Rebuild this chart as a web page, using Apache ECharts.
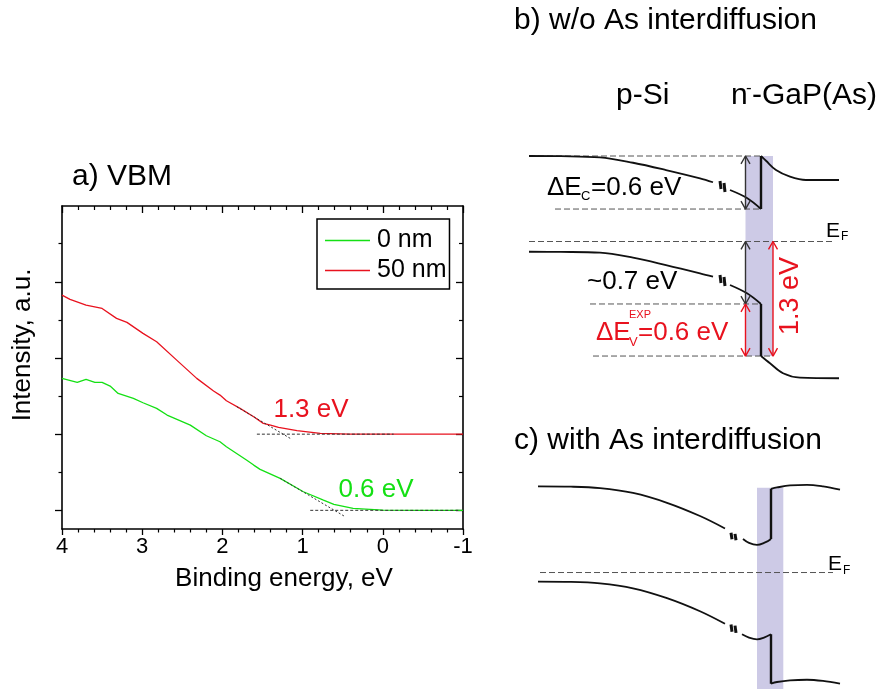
<!DOCTYPE html>
<html>
<head>
<meta charset="utf-8">
<script src="https://cdn.jsdelivr.net/npm/echarts@6/dist/echarts.min.js"></script>
<style>
html,body{margin:0;padding:0;background:#fff;}
#main{width:886px;height:689px;}
</style>
</head>
<body>
<div id="main"></div>
<script>
// ---------- Panel a) VBM spectra ----------
const bindingEnergy50 = [4.0, 3.9, 3.7, 3.5, 3.32, 3.19, 2.99, 2.82, 2.57, 2.32, 2.11, 2.03, 1.95, 1.78, 1.61, 1.49, 1.40, 1.30, 1.07, 0.78, 0.41, 0.0, -0.5, -1.0];
const intensity50 = [2.826, 2.77, 2.694, 2.65, 2.52, 2.467, 2.323, 2.213, 1.972, 1.732, 1.566, 1.513, 1.438, 1.339, 1.228, 1.142, 1.118, 1.09, 1.045, 1.01, 1.0, 1.0, 1.0, 1.0];
const bindingEnergy0 = [4.0, 3.81, 3.70, 3.59, 3.50, 3.40, 3.30, 3.11, 2.99, 2.82, 2.69, 2.40, 2.20, 2.03, 1.95, 1.70, 1.61, 1.53, 1.28, 0.99, 0.74, 0.61, 0.37, 0.0, -0.5, -1.0];
const intensity0 = [1.732, 1.68, 1.719, 1.68, 1.68, 1.631, 1.535, 1.47, 1.412, 1.339, 1.251, 1.119, 0.979, 0.9, 0.835, 0.66, 0.594, 0.538, 0.42, 0.244, 0.135, 0.079, 0.026, 0.004, 0.0, 0.0];
const fit50TangentX = [1.82, 1.155];
const fit50TangentY = [1.36, 0.945];
const fit50BaseX = [1.57, -0.135];
const fit50BaseY = [1.0, 1.0];
const fit0TangentX = [1.28, 0.468];
const fit0TangentY = [0.42, -0.084];
const fit0BaseX = [0.905, -0.95];
const fit0BaseY = [0.0, 0.0];
const xTickMin = -1, xTickMax = 4;
const yMajorTicks = [0, 1, 2, 3];
const yMinorTicks = [0.5, 1.5, 2.5, 3.5];
const seriesNames = ['0 nm', '50 nm'];

// ---------- Panel b) w/o As interdiffusion (x: position vs interface, arb.; y: energy vs E_F, eV) ----------
const siCB_b_bulk = [[-232, 0.977], [-200, 0.975], [-161, 0.962], [-128, 0.90], [-95, 0.817], [-61, 0.722], [-48, 0.677]];
const siCB_b_intf = [[-31, 0.589], [-14, 0.497], [0, 0.371]];
const siVB_b_bulk = [[-232, -0.117], [-200, -0.119], [-161, -0.128], [-128, -0.185], [-95, -0.269], [-61, -0.363], [-48, -0.402]];
const siVB_b_intf = [[-31, -0.497], [-14, -0.592], [0, -0.714]];
const gapCB_b = [[0, 0.977], [5, 0.923], [15, 0.817], [29, 0.741], [45, 0.703], [78, 0.703]];
const gapVB_b = [[0, -1.309], [9, -1.392], [22, -1.506], [39, -1.556], [78, -1.563]];
const stepCB_b = [[0, 0.371], [0, 0.977]];
const stepVB_b = [[0, -0.714], [0, -1.309]];
const guides_b = [[0.977, -232, 0], [0.371, -206, 0], [0, -232, 72], [-0.714, -171, 0], [-1.309, -168, 12]];
const interlayer_b = [-15.5, 12, 0.977, -1.309];
const arrowsBlack_b = [[-15.5, 0.977, 0.371], [-15.5, 0, -0.714]];
const arrowsRed_b = [[-15.5, -0.714, -1.309], [12, 0, -1.309]];
const breaks_b = [[-41, 0.691, 0.600], [-37, 0.669, 0.566], [-41, -0.383, -0.474], [-37, -0.406, -0.509]];

// ---------- Panel c) with As interdiffusion ----------
const siCB_c_bulk = [[-233, 0.998], [-200, 0.995], [-171, 0.979], [-138, 0.922], [-104, 0.808], [-71, 0.655], [-46, 0.511]];
const siCB_c_intf = [[-28, 0.389], [-22, 0.343], [-14, 0.32], [-7, 0.343], [0, 0.389]];
const gapCB_c = [[0, 0.971], [6, 0.986], [19, 1.009], [36, 1.017], [52, 0.998], [69, 0.96]];
const siVB_c_bulk = [[-233, -0.106], [-200, -0.109], [-171, -0.126], [-138, -0.183], [-104, -0.297], [-71, -0.449], [-46, -0.594]];
const siVB_c_intf = [[-29, -0.716], [-22, -0.754], [-14, -0.774], [-7, -0.754], [0, -0.716]];
const gapVB_c = [[0, -1.288], [6, -1.269], [19, -1.25], [36, -1.243], [52, -1.257], [69, -1.288]];
const stepCB_c = [[0, 0.389], [0, 0.971]];
const stepVB_c = [[0, -0.716], [0, -1.288]];
const guides_c = [[0, -231, 62]];
const interlayer_c = [-14, 12.3, 0.983, -1.35];
const breaks_c = [[-40, 0.460, 0.385], [-36, 0.448, 0.375], [-40, -0.603, -0.686], [-36, -0.615, -0.700]];

// ---------- build ----------
const FONT = 'Liberation Sans, Arial, Helvetica, sans-serif';
const GREEN = '#14e014', RED = '#e8121e', BAND = '#111';
const zip = (xs, ys) => xs.map((x, i) => [x, ys[i]]);

const chart = echarts.init(document.getElementById('main'), null, {renderer: 'canvas'});
const series = [];

function poly(xi, yi, pts, color, width, type, smooth, z) {
  series.push({
    type: 'line', xAxisIndex: xi, yAxisIndex: yi, data: pts,
    showSymbol: false, symbol: 'none', smooth: smooth || false, silent: true,
    lineStyle: {color: color, width: width, type: type || 'solid', cap: 'butt'},
    z: z || 3, animation: false
  });
}

// panel a
series.push({
  name: seriesNames[0], type: 'line', xAxisIndex: 0, yAxisIndex: 0,
  data: zip(bindingEnergy0, intensity0), symbol: 'none', showSymbol: false,
  lineStyle: {color: GREEN, width: 1.3}, itemStyle: {color: GREEN}, z: 3
});
series.push({
  name: seriesNames[1], type: 'line', xAxisIndex: 0, yAxisIndex: 0,
  data: zip(bindingEnergy50, intensity50), symbol: 'none', showSymbol: false,
  lineStyle: {color: RED, width: 1.3}, itemStyle: {color: RED}, z: 3
});
poly(0, 0, zip(fit50TangentX, fit50TangentY), '#333', 1, [2, 2], false, 4);
poly(0, 0, zip(fit50BaseX, fit50BaseY), '#333', 1, [3, 2], false, 4);
poly(0, 0, zip(fit0TangentX, fit0TangentY), '#333', 1, [2, 2], false, 4);
poly(0, 0, zip(fit0BaseX, fit0BaseY), '#333', 1, [3, 2], false, 4);

// panel b / c helpers
const HW = 4.5, HL = 0.09;
function arrow(xi, yi, a, color) {
  const [x, e1, e2] = a;
  const d = Math.sign(e2 - e1);
  poly(xi, yi, [[x, e1], [x, e2]], color, 1.4, 'solid', false, 5);
  poly(xi, yi, [[x - HW, e1 + d * HL], [x, e1], [x + HW, e1 + d * HL]], color, 1.4, 'solid', false, 5);
  poly(xi, yi, [[x - HW, e2 - d * HL], [x, e2], [x + HW, e2 - d * HL]], color, 1.4, 'solid', false, 5);
}
function interlayer(xi, yi, r) {
  series.push({
    type: 'line', xAxisIndex: xi, yAxisIndex: yi, data: [[r[0], r[2]]], symbol: 'none', showSymbol: false,
    silent: true, z: 1,
    markArea: {silent: true, itemStyle: {color: '#cdcae6', opacity: 1},
      data: [[{coord: [r[0], r[2]]}, {coord: [r[1], r[3]]}]]}
  });
}
function guides(xi, yi, g) {
  g.forEach(([e, x1, x2]) => poly(xi, yi, [[x1, e], [x2, e]], '#555', 1, [6, 3], false, 2));
}
function breaks(xi, yi, b) {
  b.forEach(([x, e1, e2]) => poly(xi, yi, [[x, e1], [x + 1, e2]], BAND, 3, 'solid', false, 4));
}

// panel b
interlayer(2, 4, interlayer_b);
guides(2, 4, guides_b);
[siCB_b_bulk, siCB_b_intf, siVB_b_bulk, siVB_b_intf, gapCB_b, gapVB_b].forEach(p => poly(2, 4, p, BAND, 1.8, 'solid', 0.35, 4));
[stepCB_b, stepVB_b].forEach(p => poly(2, 4, p, BAND, 2.4, 'solid', false, 4));
breaks(2, 4, breaks_b);
arrowsBlack_b.forEach(a => arrow(2, 4, a, '#333'));
arrowsRed_b.forEach(a => arrow(2, 4, a, RED));

// panel c
interlayer(3, 5, interlayer_c);
guides(3, 5, guides_c);
[siCB_c_bulk, siCB_c_intf, siVB_c_bulk, siVB_c_intf, gapCB_c, gapVB_c].forEach(p => poly(3, 5, p, BAND, 1.8, 'solid', 0.35, 4));
[stepCB_c, stepVB_c].forEach(p => poly(3, 5, p, BAND, 2.4, 'solid', false, 4));
breaks(3, 5, breaks_c);

const axisLine = {show: true, onZero: false, lineStyle: {color: '#000', width: 1.6}};
const hidden = (gi, min, max) => ({gridIndex: gi, type: 'value', min: min, max: max, show: false});

function txt(x, y, text, size, color, extra) {
  const el = {
    type: 'text', x: x, y: y, silent: true, z: 100,
    style: {text: text, fontSize: size, fontFamily: FONT, fill: color || '#000', align: 'left', verticalAlign: 'middle'}
  };
  if (extra) {
    if (extra.rotation !== undefined) el.rotation = extra.rotation;
    if (extra.align) el.style.align = extra.align;
  }
  return el;
}

const option = {
  animation: false,
  backgroundColor: '#fff',
  grid: [
    {left: 62, top: 206, width: 401, height: 323},
    {left: 500, top: 136.5, width: 386, height: 262.5},
    {left: 500, top: 469, width: 386, height: 223.125}
  ],
  xAxis: [
    {gridIndex: 0, type: 'value', min: xTickMin, max: xTickMax, interval: 1, inverse: true, position: 'bottom',
      axisLine: axisLine, splitLine: {show: false},
      axisTick: {show: true, inside: false, length: 6, lineStyle: {color: '#000', width: 1.3}},
      minorTick: {show: true, splitNumber: 5, length: 3.5, lineStyle: {color: '#000', width: 1.2}},
      axisLabel: {fontSize: 22, color: '#000', fontFamily: FONT, margin: 7}},
    {gridIndex: 0, type: 'value', min: xTickMin, max: xTickMax, interval: 1, inverse: true, position: 'top',
      axisLine: axisLine, splitLine: {show: false},
      axisTick: {show: true, inside: true, length: 7, lineStyle: {color: '#000', width: 1.3}},
      minorTick: {show: true, splitNumber: 5, length: 4, lineStyle: {color: '#000', width: 1.2}},
      axisLabel: {show: false}},
    hidden(1, -261, 125),
    hidden(2, -271, 115)
  ],
  yAxis: [
    {gridIndex: 0, type: 'value', min: -0.245, max: 3.995, position: 'left', offset: 0,
      axisLine: axisLine, splitLine: {show: false}, axisLabel: {show: false},
      axisTick: {show: true, inside: false, length: 7, customValues: yMajorTicks, lineStyle: {color: '#000', width: 1.3}}},
    {gridIndex: 0, type: 'value', min: -0.245, max: 3.995, position: 'left', offset: 0,
      axisLine: {show: false, onZero: false}, splitLine: {show: false}, axisLabel: {show: false},
      axisTick: {show: true, inside: false, length: 3.5, customValues: yMinorTicks, lineStyle: {color: '#000', width: 1.2}}},
    {gridIndex: 0, type: 'value', min: -0.245, max: 3.995, position: 'right', offset: 0,
      axisLine: axisLine, splitLine: {show: false}, axisLabel: {show: false},
      axisTick: {show: true, inside: true, length: 7, customValues: yMajorTicks, lineStyle: {color: '#000', width: 1.3}}},
    {gridIndex: 0, type: 'value', min: -0.245, max: 3.995, position: 'right', offset: 0,
      axisLine: {show: false, onZero: false}, splitLine: {show: false}, axisLabel: {show: false},
      axisTick: {show: true, inside: true, length: 4, customValues: yMinorTicks, lineStyle: {color: '#000', width: 1.2}}},
    hidden(1, -1.8, 1.2),
    hidden(2, -1.35, 1.2)
  ],
  legend: {
    data: seriesNames, orient: 'vertical', left: 317, top: 219,
    icon: 'rect', itemWidth: 45, itemHeight: 1.6, itemGap: 5,
    padding: [9, 3, 6, 8],
    borderColor: '#000', borderWidth: 1.5, borderRadius: 0,
    textStyle: {fontSize: 25, color: '#000', fontFamily: FONT, padding: [0, 0, 0, 2]},
    selectedMode: false
  },
  series: series,
  graphic: [
    txt(72, 177, 'a) VBM', 30),
    txt(23, 345, 'Intensity, a.u.', 26, '#000', {rotation: Math.PI / 2, align: 'center'}),
    txt(284, 579, 'Binding energy, eV', 26, '#000', {align: 'center'}),
    txt(311, 410, '1.3 eV', 26, RED, {align: 'center'}),
    txt(376, 490, '0.6 eV', 26, GREEN, {align: 'center'}),

    txt(514, 21, 'b) w/o As interdiffusion', 30),
    txt(616, 96, 'p-Si', 30),
    txt(731, 96, 'n', 30),
    txt(746, 88, '-', 17),
    txt(752, 96, '-GaP(As)', 30),
    txt(547, 188, 'ΔE', 26),
    txt(581, 196, 'C', 13),
    txt(591, 188, '=0.6 eV', 26),
    txt(587, 282, '~0.7 eV', 26),
    txt(596, 333, 'ΔE', 26, RED),
    txt(629, 315, 'EXP', 11, RED),
    txt(629, 342, 'V', 13, RED),
    txt(638, 333, '=0.6 eV', 26, RED),
    txt(791, 296, '1.3 eV', 27, RED, {rotation: Math.PI / 2, align: 'center'}),
    txt(826, 231, 'E', 21),
    txt(841, 237, 'F', 12),

    txt(514, 441, 'c) with As interdiffusion', 30),
    txt(828, 564, 'E', 21),
    txt(843, 571, 'F', 12)
  ]
};
chart.setOption(option);
</script>
</body>
</html>
